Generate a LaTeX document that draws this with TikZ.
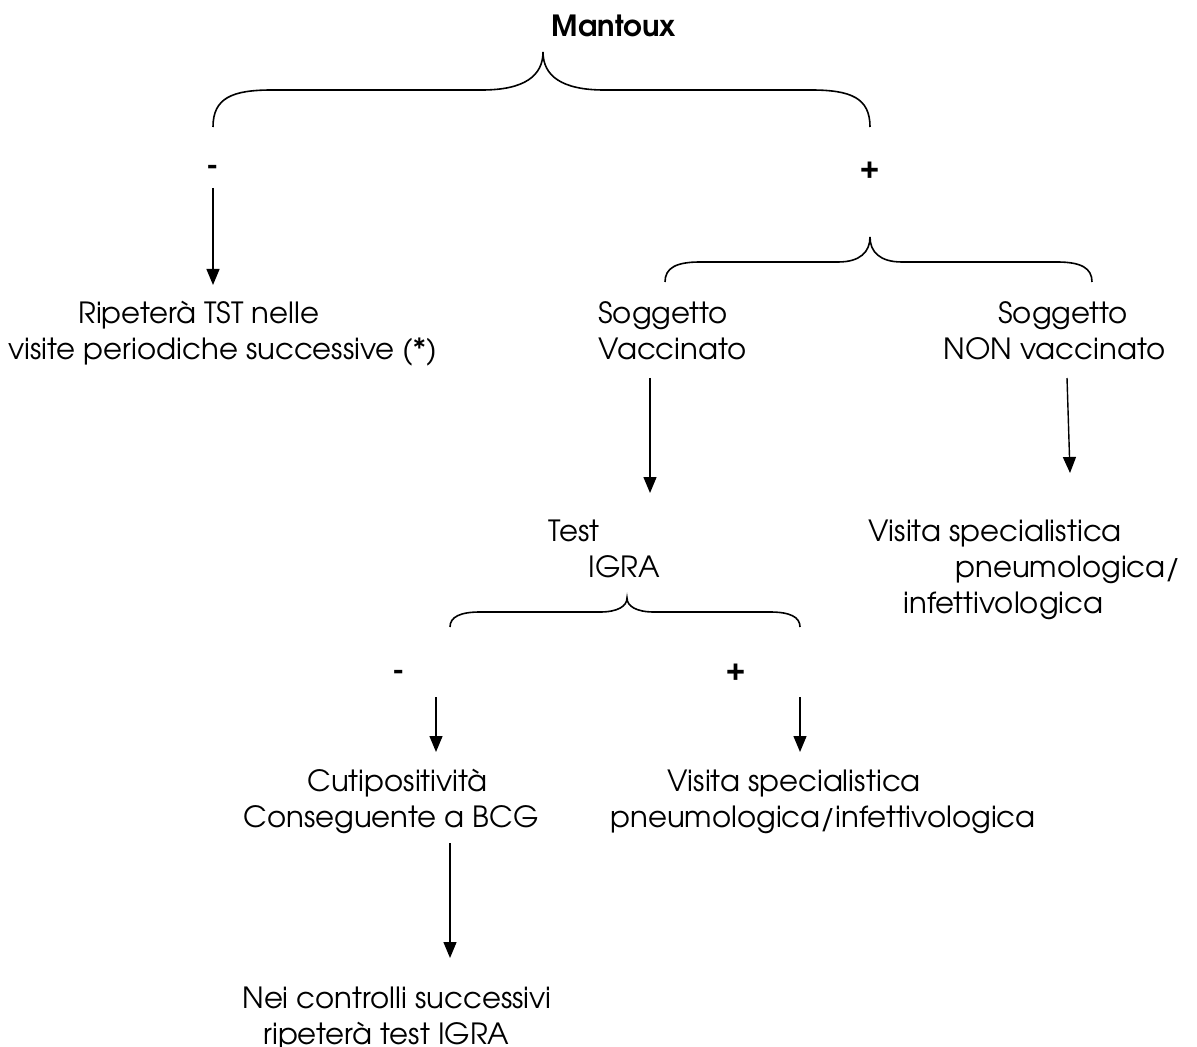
\documentclass[tikz,border=0pt]{standalone}
\usepackage{fontspec}
\setmainfont{TeX Gyre Adventor}
\usetikzlibrary{arrows.meta}
\begin{document}
\begin{tikzpicture}[x=0.5pt,y=-0.5pt,
  txt/.style={font=\fontsize{14.6}{18}\selectfont, inner sep=0pt, align=left, anchor=base west},
  sign/.style={font=\fontsize{14.6}{18}\selectfont\bfseries, inner sep=0pt},
  arr/.style={-{Triangle[length=8pt,width=6.5pt]}, line width=0.7pt},
  brace/.style={line width=0.8pt}]
\useasboundingbox (0,0) rectangle (1197,1047);
% texts (anchor = baseline of the last line)
\node[font=\fontsize{14.6}{18}\selectfont\bfseries, inner sep=0pt, anchor=base] (mantoux) at (614,37) {Mantoux};
\node[sign] (minus1) at (213,170) {-};
\node[sign] (plus1) at (870,170) {+};
\node[txt] (rip) at (8,360) {\hspace*{35pt}Ripeterà TST nelle\\visite periodiche successive (*)};
\node[txt] (vac) at (598,360) {Soggetto\\Vaccinato};
\node[txt] (nonvac) at (943,360) {\hspace*{27.5pt}Soggetto\\NON vaccinato};
\node[txt] (test) at (548,577) {Test\\\hspace*{20pt}IGRA};
\node[txt] (visita1) at (868,613) {Visita specialistica\\\hspace*{43.5pt}pneumologica/\\\hspace*{17.5pt}infettivologica};
\node[sign] (minus2) at (399,675) {-};
\node[sign] (plus2) at (736,672) {+};
\node[txt] (cuti) at (243,827) {\hspace*{32pt}Cutipositività\\Conseguente a BCG};
\node[txt] (visita2) at (610,827) {\hspace*{28.5pt}Visita specialistica\\pneumologica/infettivologica};
\node[txt] (nei) at (242,1044) {Nei controlli successivi\\\hspace*{10.5pt}ripeterà test IGRA};
% braces
\draw[brace] (213,127) .. controls (213,98) and (232,90) .. (272,90) -- (482,90)
  .. controls (524,90) and (543,76) .. (543,52)
  .. controls (543,76) and (562,90) .. (604,90) -- (811,90)
  .. controls (851,90) and (870,98) .. (870,127);
\draw[brace] (665,282) .. controls (665,268) and (676,262) .. (700,262) -- (838,262)
  .. controls (860,262) and (870,252) .. (870,237)
  .. controls (870,252) and (880,262) .. (902,262) -- (1057,262)
  .. controls (1081,262) and (1092,268) .. (1092,282);
\draw[brace] (450,627) .. controls (450,617) and (460,612) .. (480,612) -- (600,612)
  .. controls (618,612) and (627,606) .. (627,598)
  .. controls (627,606) and (636,612) .. (654,612) -- (770,612)
  .. controls (790,612) and (800,617) .. (800,627);
% arrows
\coordinate (a1s) at (213,188); \coordinate (a1e) at (213,285);
\coordinate (a2s) at (650,378); \coordinate (a2e) at (650,493);
\coordinate (a3s) at (1067,378); \coordinate (a3e) at (1070,473);
\coordinate (a4s) at (436,697); \coordinate (a4e) at (436,752);
\coordinate (a5s) at (800,697); \coordinate (a5e) at (800,752);
\coordinate (a6s) at (450,843); \coordinate (a6e) at (450,958);
\draw[arr] (a1s) -- (a1e);
\draw[arr] (a2s) -- (a2e);
\draw[arr] (a3s) -- (a3e);
\draw[arr] (a4s) -- (a4e);
\draw[arr] (a5s) -- (a5e);
\draw[arr] (a6s) -- (a6e);
\end{tikzpicture}
\end{document}
